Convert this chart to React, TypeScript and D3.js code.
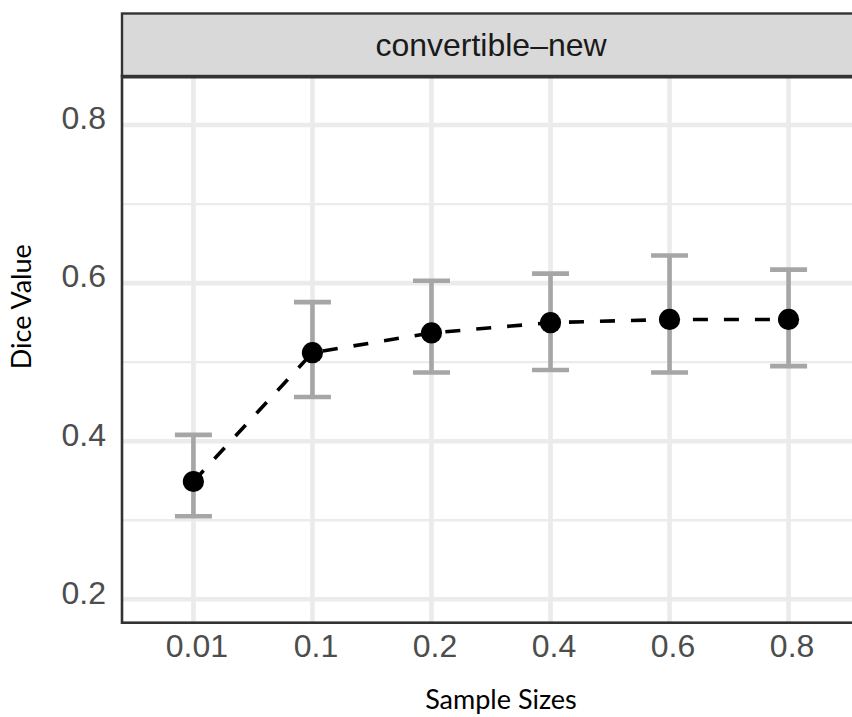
import React from "react";
import * as d3 from "d3";

// Sample sizes (discrete x categories) and Dice summary per size
const sampleSizes = ["0.01", "0.1", "0.2", "0.4", "0.6", "0.8"];
const diceMean = [0.349, 0.512, 0.537, 0.55, 0.554, 0.554];
const diceLower = [0.305, 0.456, 0.487, 0.49, 0.487, 0.495];
const diceUpper = [0.408, 0.576, 0.603, 0.612, 0.635, 0.617];

const yMajorTicks = [0.2, 0.4, 0.6, 0.8];
const yMinorTicks = [0.3, 0.5, 0.7];
const stripLabel = "convertible\u2013new";
const xTitle = "Sample Sizes";
const yTitle = "Dice Value";

const W = 852;
const H = 717;

const panel = { left: 122, right: 860, top: 76, bottom: 622.7 };
const stripTop = 13.5;

export default function App() {
  const x = d3
    .scalePoint<string>()
    .domain(sampleSizes)
    .range([panel.left, panel.right])
    .padding(0.6);

  const y = d3
    .scaleLinear()
    .domain([0.1704, 0.862])
    .range([panel.bottom, panel.top]);

  const rows = sampleSizes.map((s, i) => ({
    s,
    mean: diceMean[i],
    lo: diceLower[i],
    hi: diceUpper[i],
  }));

  const line = d3
    .line<(typeof rows)[number]>()
    .x((d) => x(d.s) as number)
    .y((d) => y(d.mean));

  const capHalf = 18.5;
  const tickFont = "'Liberation Sans', Arial, Helvetica, sans-serif";
  const titleFont = "Lato, 'Open Sans', sans-serif";

  return (
    <svg
      width={W}
      height={H}
      style={{ position: "absolute", left: 0, top: 0, background: "#fff" }}
    >
      <defs>
        <clipPath id="panel-clip">
          <rect
            x={panel.left}
            y={panel.top}
            width={panel.right - panel.left}
            height={panel.bottom - panel.top}
          />
        </clipPath>
      </defs>

      {/* panel background and grid */}
      <rect
        x={panel.left}
        y={panel.top}
        width={panel.right - panel.left}
        height={panel.bottom - panel.top}
        fill="#fff"
      />
      <g clipPath="url(#panel-clip)">
        {yMinorTicks.map((t) => (
          <line
            key={"ymin" + t}
            x1={panel.left}
            x2={panel.right}
            y1={y(t)}
            y2={y(t)}
            stroke="#EBEBEB"
            strokeWidth={2.3}
          />
        ))}
        {yMajorTicks.map((t) => (
          <line
            key={"ymaj" + t}
            x1={panel.left}
            x2={panel.right}
            y1={y(t)}
            y2={y(t)}
            stroke="#EBEBEB"
            strokeWidth={4.6}
          />
        ))}
        {sampleSizes.map((s) => (
          <line
            key={"xmaj" + s}
            x1={x(s)}
            x2={x(s)}
            y1={panel.top}
            y2={panel.bottom}
            stroke="#EBEBEB"
            strokeWidth={4.6}
          />
        ))}

        {/* error bars */}
        {rows.map((d) => {
          const cx = x(d.s) as number;
          return (
            <g key={"eb" + d.s} stroke="#A6A6A6" strokeWidth={4.6}>
              <line x1={cx} x2={cx} y1={y(d.hi)} y2={y(d.lo)} />
              <line x1={cx - capHalf} x2={cx + capHalf} y1={y(d.hi)} y2={y(d.hi)} />
              <line x1={cx - capHalf} x2={cx + capHalf} y1={y(d.lo)} y2={y(d.lo)} />
            </g>
          );
        })}

        {/* mean trend */}
        <path
          d={line(rows) ?? ""}
          fill="none"
          stroke="#000"
          strokeWidth={3.6}
          strokeDasharray="15 16"
        />

        {rows.map((d) => (
          <circle key={"pt" + d.s} cx={x(d.s)} cy={y(d.mean)} r={10.6} fill="#000" />
        ))}
      </g>

      {/* panel border */}
      <rect
        x={panel.left}
        y={panel.top}
        width={panel.right - panel.left}
        height={panel.bottom - panel.top}
        fill="none"
        stroke="#333333"
        strokeWidth={2.6}
      />

      {/* facet strip */}
      <rect
        x={panel.left}
        y={stripTop}
        width={panel.right - panel.left}
        height={panel.top - stripTop}
        fill="#D9D9D9"
        stroke="#333333"
        strokeWidth={2.4}
      />
      <line
        x1={panel.left}
        x2={panel.right}
        y1={panel.top + 1}
        y2={panel.top + 1}
        stroke="#333333"
        strokeWidth={3.2}
      />
      <text
        x={(panel.left + panel.right) / 2}
        y={56}
        textAnchor="middle"
        fontFamily={tickFont}
        fontSize={32}
        fill="#1A1A1A"
      >
        {stripLabel}
      </text>

      {/* y tick labels */}
      {yMajorTicks.map((t) => (
        <text
          key={"yl" + t}
          x={106}
          y={y(t) + 4.3}
          textAnchor="end"
          fontFamily={tickFont}
          fontSize={32}
          fill="#4D4D4D"
        >
          {d3.format(".1f")(t)}
        </text>
      ))}

      {/* x tick labels */}
      {sampleSizes.map((s) => (
        <text
          key={"xl" + s}
          x={(x(s) as number) + 3.5}
          y={656.7}
          textAnchor="middle"
          fontFamily={tickFont}
          fontSize={32}
          fill="#4D4D4D"
        >
          {s}
        </text>
      ))}

      {/* axis titles */}
      <text
        x={501}
        y={709}
        textAnchor="middle"
        fontFamily={titleFont}
        fontSize={27}
        fill="#000"
      >
        {xTitle}
      </text>
      <text
        transform={`translate(31, 306.7) rotate(-90)`}
        textAnchor="middle"
        fontFamily={titleFont}
        fontSize={27}
        fill="#000"
      >
        {yTitle}
      </text>
    </svg>
  );
}
